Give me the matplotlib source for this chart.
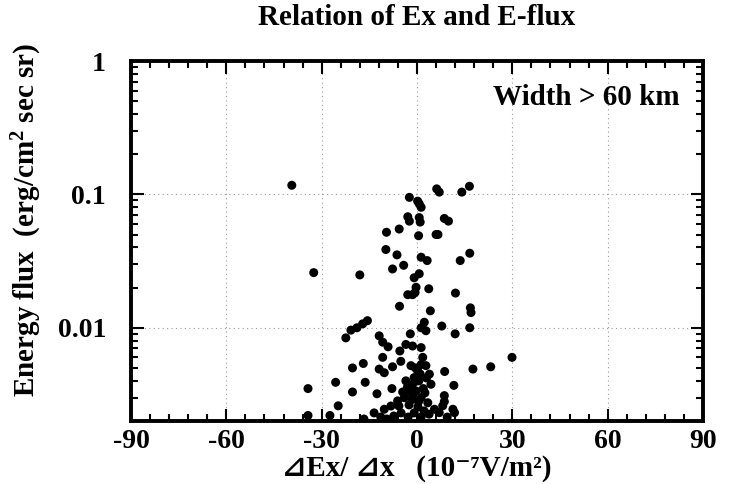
import matplotlib
matplotlib.use("Agg")
from matplotlib import pyplot as plt
from matplotlib.ticker import MultipleLocator, LogLocator, FixedLocator, NullFormatter

plt.rcParams['font.family'] = ['Liberation Serif', 'DejaVu Serif', 'DejaVu Sans']
plt.rcParams['font.weight'] = 'bold'
plt.rcParams['axes.unicode_minus'] = False
plt.rcParams['mathtext.fontset'] = 'custom'
plt.rcParams['mathtext.rm'] = 'Liberation Serif:bold'
plt.rcParams['mathtext.it'] = 'Liberation Serif:bold'
plt.rcParams['mathtext.bf'] = 'Liberation Serif:bold'

# dEx/dx (10^-7 V/m^2) and energy flux (erg/cm^2 sec sr)
dex = [-39.4, 6.2, 7.0, 16.5, 14.1, -2.4, 0.7, 1.3, 0.2, -2.9,
       -2.4, 0.7, 1.0, 8.6, 9.9, -9.6, -5.6, 0.5, 6.0, 6.6,
       -9.8, -6.3, 1.3, 3.2, 13.6, 16.6, -32.5, -18.0, -7.7, -4.2,
       0.7, -0.9, -0.3, -0.6, 3.7, 12.1, -2.9, -1.4, -5.5, 4.2,
       16.8, 17.0, -15.6, -17.1, -18.9, -20.8, -22.4, 2.3, 1.3, 2.8,
       7.8, 16.6, 12.0, -2.1, -11.9, -10.8, -9.1, -5.4, -3.5, -1.4,
       1.3, -16.9, -20.3, -10.8, -5.1, -11.9, -10.3, -7.7, 8.7, 17.6,
       23.2, 29.9, -25.6, -16.3, -34.3, -20.3, -12.6, -7.9, 11.6, -24.8,
       -34.3, -27.4, -13.5, 8.6, 8.6, 8.1, 11.3, 11.8, 1.8, 1.3,
       0.2, -0.9, -1.4, -2.4, 3.9, 4.4, 0.6, -3.5, -0.3, 2.5,
       -1.9, 2.8, -10.3, -8.2, -6.1, -4.0, -1.4, 1.3, 3.4, 5.5,
       7.0, -11.4, -7.3, -5.0, -2.8, -0.9, 1.3, 3.8, -5.7, -2.5,
       0.3, 2.2, -9.5, 9.5, -16.7, -3.0, -1.5, 0.5, 2.0, -4.5,
       1.0, -0.5, 3.0]
eflux = [0.117, 0.110, 0.104, 0.115, 0.104, 0.095, 0.085, 0.080, 0.089, 0.068,
         0.063, 0.067, 0.062, 0.066, 0.063, 0.052, 0.055, 0.049, 0.050, 0.050,
         0.0386, 0.0352, 0.0338, 0.0319, 0.0319, 0.0362, 0.0259, 0.0249, 0.0276, 0.0294,
         0.0254, 0.0237, 0.0201, 0.0184, 0.0196, 0.0182, 0.0177, 0.0177, 0.0145, 0.0134,
         0.0141, 0.0130, 0.0113, 0.0107, 0.0100, 0.0096, 0.0084, 0.0110, 0.0100, 0.0095,
         0.0103, 0.0100, 0.0090, 0.0090, 0.0087, 0.0078, 0.0072, 0.0067, 0.0075, 0.0073,
         0.0071, 0.0054, 0.0050, 0.0060, 0.0056, 0.0049, 0.0046, 0.0051, 0.0047, 0.0049,
         0.0051, 0.0060, 0.0039, 0.0039, 0.0035, 0.0033, 0.0032, 0.0035, 0.0037, 0.0026,
         0.0022, 0.0022, 0.0023, 0.0031, 0.0028, 0.0026, 0.00245, 0.00231, 0.0060, 0.0053,
         0.00475, 0.00423, 0.00377, 0.00336, 0.00449, 0.00377, 0.0040, 0.0040, 0.00336, 0.00325,
         0.0052, 0.0052, 0.00245, 0.00259, 0.00283, 0.00299, 0.00308, 0.00299, 0.00274, 0.00245,
         0.00231, 0.00214, 0.00218, 0.0023, 0.00214, 0.0023, 0.00214, 0.00225, 0.00259, 0.00264,
         0.00255, 0.00238, 0.00207, 0.00214, 0.00207, 0.0036, 0.0029, 0.0028, 0.0035, 0.0033,
         0.0045, 0.0050, 0.0042]

xticks = [-90, -60, -30, 0, 30, 60, 90]
yticks = [0.01, 0.1, 1]
ytick_labels = ['0.01', '0.1', '1']

fig = plt.figure(figsize=(7.3, 4.84), dpi=100)
ax = fig.add_axes([131 / 730, 1 - 421 / 484, 572 / 730, 360 / 484])

ax.scatter(dex, eflux, s=42, color='black', edgecolors='none', zorder=3)

ax.set_yscale('log')
ax.set_xlim(-90, 90)
ax.set_ylim(0.002, 1)

ax.xaxis.set_major_locator(FixedLocator(xticks))
ax.xaxis.set_minor_locator(MultipleLocator(6))
ax.set_xticklabels([str(t) for t in xticks])
ax.yaxis.set_major_locator(FixedLocator(yticks))
ax.set_yticklabels(ytick_labels)
ax.yaxis.set_minor_locator(LogLocator(base=10, subs=range(2, 10)))
ax.yaxis.set_minor_formatter(NullFormatter())

ax.tick_params(which='both', direction='in', top=True, right=True, width=1.5)
ax.tick_params(which='major', length=9, labelsize=20, pad=6)
ax.tick_params(which='minor', length=5)
ax.tick_params(axis='y', which='major', pad=18)
for s in ax.spines.values():
    s.set_linewidth(2.8)

ax.grid(True, which='major', color='#999999', linestyle=(0, (1, 3)), linewidth=0.8)

ax.set_title('Relation of Ex and E-flux', fontsize=21, fontweight='bold', pad=26)
ax.set_xlabel('⊿Ex/ ⊿x   (10⁻⁷V/m²)', fontsize=21, fontweight='bold')
ax.xaxis.set_label_coords(0.5, -0.095)
ax.set_ylabel('Energy flux  (erg/cm$^{2}$ sec sr)', fontsize=21, fontweight='bold')
ax.yaxis.set_label_coords(-0.152, 0.558)
ax.text(0.96, 0.9, 'Width > 60 km', transform=ax.transAxes, ha='right', va='center',
        fontsize=21, fontweight='bold')

fig.savefig('out.png', dpi=100)
